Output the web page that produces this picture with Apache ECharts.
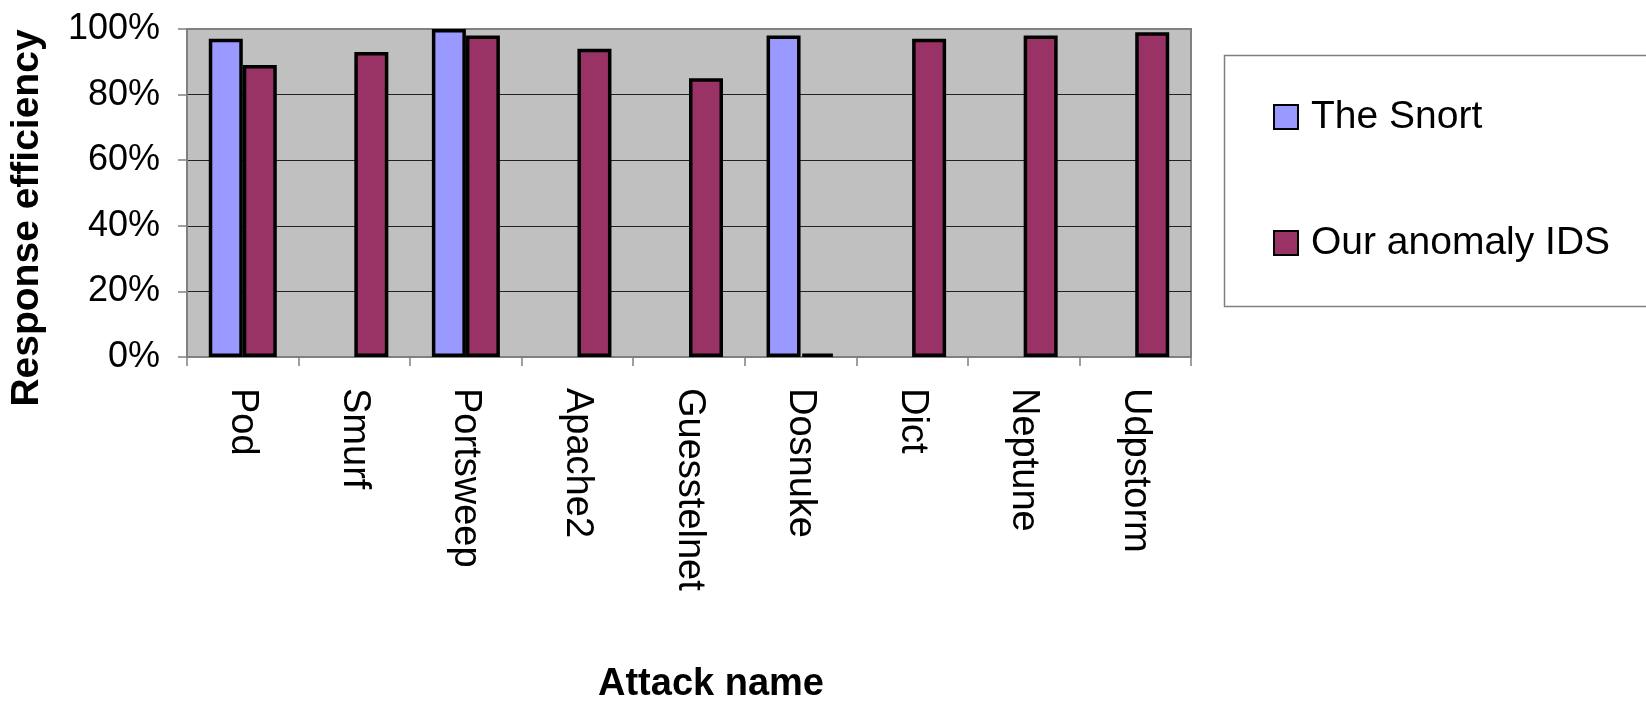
<!DOCTYPE html>
<html>
<head>
<meta charset="utf-8">
<script src="https://cdn.jsdelivr.net/npm/echarts@6/dist/echarts.min.js"></script>
<style>
  html, body { margin: 0; padding: 0; background: #fff; }
  #chart { width: 1646px; height: 708px; }
</style>
</head>
<body>
<div id="chart"></div>
<script>
// Attack categories on the x axis
const attacks = ['Pod', 'Smurf', 'Portsweep', 'Apache2', 'Guesstelnet', 'Dosnuke', 'Dict', 'Neptune', 'Udpstorm'];
// Response efficiency (%) per attack; '-' = not detected / no bar
const snort = [97, '-', 100, '-', '-', 98, '-', '-', '-'];
const anomalyIds = [89, 93, 98, 94, 85, 1, 97, 98, 99];
// Y axis ticks (%)
const yTicks = [0, 20, 40, 60, 80, 100];

const FONT = '"Liberation Sans", Arial, sans-serif';

const chart = echarts.init(document.getElementById('chart'), null, { renderer: 'canvas' });

chart.setOption({
  animation: false,
  backgroundColor: '#ffffff',
  textStyle: { fontFamily: FONT, color: '#000' },
  graphic: [{
    type: 'rect',
    z: 0,
    shape: { x: 1224.5, y: 55.5, width: 440, height: 251 },
    style: { fill: '#ffffff', stroke: '#808080', lineWidth: 1.5 }
  }],
  legend: {
    orient: 'vertical',
    left: 1268,
    top: 92,
    itemWidth: 24,
    itemHeight: 24,
    itemGap: 86,
    icon: 'rect',
    z: 5,
    textStyle: { fontFamily: FONT, fontSize: 39, color: '#000', lineHeight: 40, padding: [0, 0, 0, 8] },
    data: ['The Snort', 'Our anomaly IDS']
  },
  grid: {
    left: 187,
    top: 29,
    width: 1004,
    height: 328,
    show: true,
    backgroundColor: '#C0C0C0',
    borderColor: '#808080',
    borderWidth: 2
  },
  xAxis: {
    type: 'category',
    data: attacks,
    boundaryGap: true,
    name: 'Attack name',
    nameLocation: 'middle',
    nameGap: 309,
    nameTextStyle: { fontFamily: FONT, fontSize: 38, fontWeight: 'bold', color: '#000', padding: [0, 0, 0, 44] },
    axisLine: { lineStyle: { color: '#808080', width: 2 } },
    axisTick: { show: true, inside: false, length: 9, interval: 0, lineStyle: { color: '#808080', width: 1.5 } },
    axisLabel: { interval: 0, rotate: -90, margin: 31, fontSize: 38, color: '#000', fontFamily: FONT },
    splitLine: { show: false }
  },
  yAxis: {
    type: 'value',
    min: yTicks[0],
    max: yTicks[yTicks.length - 1],
    interval: yTicks[1] - yTicks[0],
    name: 'Response efficiency',
    nameLocation: 'middle',
    nameGap: 140,
    nameRotate: 90,
    nameTextStyle: { fontFamily: FONT, fontSize: 39, fontWeight: 'bold', color: '#000', padding: [0, 50, 0, 0] },
    axisLine: { show: true, lineStyle: { color: '#808080', width: 2 } },
    axisTick: { show: true, inside: false, length: 9, lineStyle: { color: '#808080', width: 1.5 } },
    axisLabel: { formatter: '{value}%', margin: 27, fontSize: 36, color: '#000', fontFamily: FONT },
    splitLine: { show: true, lineStyle: { color: ['#808080', '#222', '#222', '#222', '#222', '#808080'], width: 1.2 } }
  },
  series: [
    {
      name: 'The Snort',
      type: 'bar',
      data: snort,
      barWidth: 34,
      barGap: '0%',
      itemStyle: { color: '#9999FF', borderColor: '#000', borderWidth: 3.5 }
    },
    {
      name: 'Our anomaly IDS',
      type: 'bar',
      data: anomalyIds,
      barWidth: 34,
      barGap: '0%',
      itemStyle: { color: '#993366', borderColor: '#000', borderWidth: 3.5 }
    }
  ]
});
</script>
</body>
</html>
